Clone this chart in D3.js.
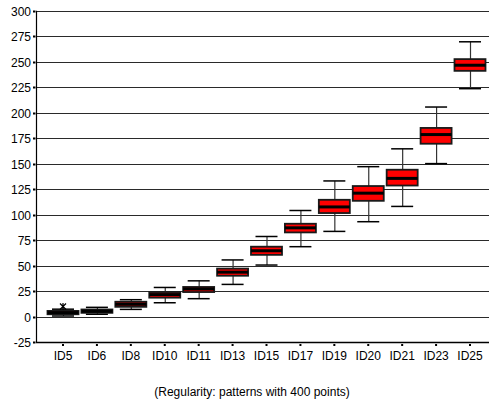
<!DOCTYPE html>
<html>
<head>
<meta charset="utf-8">
<script src="https://cdn.jsdelivr.net/npm/d3@7"></script>
<style>
  html, body { margin: 0; padding: 0; background: #fff; }
  svg { display: block; }
  text { font-family: "Liberation Sans", Arial, sans-serif; fill: #000; }
</style>
</head>
<body>
<svg id="chart" width="489" height="407"></svg>
<script>
// Box-plot statistics per pattern ID
const categories  = ["ID5","ID6","ID8","ID10","ID11","ID13","ID15","ID17","ID19","ID20","ID21","ID23","ID25"];
const whiskerLow  = [0.5, 2.2, 7, 13.5, 17.5, 31.5, 50.5, 68.5, 83.5, 93, 108, 150, 223.5];
const q1          = [2.2, 3.6, 9.5, 18.5, 24, 40, 60.5, 82.5, 101.5, 113.5, 128.5, 169.5, 241];
const medians     = [3.8, 5.2, 12, 21.5, 27, 43.5, 64.5, 87, 107.5, 121, 135.5, 178.5, 246.5];
const q3          = [5.5, 6.9, 14.5, 24, 29, 47, 68.5, 91, 114.5, 128, 144, 185, 252.5];
const whiskerHigh = [7.2, 9, 16.5, 28.5, 35, 55.5, 78.5, 104, 133, 147, 164.5, 205.5, 269.5];
const outlierCats = ["ID5"];
const outlierVals = [9.8];
const yTicks = [-25, 0, 25, 50, 75, 100, 125, 150, 175, 200, 225, 250, 275, 300];
const caption = "(Regularity: patterns with 400 points)";

const svg = d3.select("#chart");
const plotLeft = 36, plotRight = 489, plotTop = 10.7, plotBottom = 342;

const y = d3.scaleLinear().domain([-25, 300]).range([plotBottom, plotTop]);
const x = d3.scalePoint().domain(categories).range([63, 470]);

const boxW = 31, capW = 22;

// horizontal grid lines
svg.append("g")
  .selectAll("line")
  .data(yTicks.filter(d => d > -25))
  .join("line")
  .attr("x1", plotLeft).attr("x2", plotRight)
  .attr("y1", d => Math.round(y(d)) + 0.5).attr("y2", d => Math.round(y(d)) + 0.5)
  .attr("stroke", "#2a2a2a").attr("stroke-width", 1.1);

// y axis: labels and square tick marks
const yAxis = svg.append("g");
yAxis.selectAll("rect")
  .data(yTicks)
  .join("rect")
  .attr("x", 33).attr("y", d => Math.round(y(d)) - 0.5)
  .attr("width", 2.5).attr("height", 2)
  .attr("fill", "#000");
yAxis.selectAll("text")
  .data(yTicks)
  .join("text")
  .attr("x", 31).attr("y", d => y(d) + 5)
  .attr("text-anchor", "end")
  .style("font-size", "12px")
  .text(d => d);
yAxis.append("line")
  .attr("x1", plotLeft + 0.5).attr("x2", plotLeft + 0.5)
  .attr("y1", plotTop).attr("y2", plotBottom + 1)
  .attr("stroke", "#000").attr("stroke-width", 1.2);

// x axis
const xAxis = svg.append("g");
xAxis.append("line")
  .attr("x1", plotLeft).attr("x2", plotRight)
  .attr("y1", Math.round(plotBottom) + 0.5).attr("y2", Math.round(plotBottom) + 0.5)
  .attr("stroke", "#000").attr("stroke-width", 1.5);
xAxis.selectAll("rect")
  .data(categories)
  .join("rect")
  .attr("x", d => x(d) - 1).attr("y", 344)
  .attr("width", 2).attr("height", 2)
  .attr("fill", "#000");
xAxis.selectAll("text")
  .data(categories)
  .join("text")
  .attr("x", d => x(d)).attr("y", 359.5)
  .attr("text-anchor", "middle")
  .style("font-size", "12px")
  .text(d => d);

// boxes
const stats = categories.map((c, i) => ({
  c, lo: whiskerLow[i], q1: q1[i], med: medians[i], q3: q3[i], hi: whiskerHigh[i]
}));

const g = svg.append("g").selectAll("g").data(stats).join("g");

// whisker stem
g.append("line")
  .attr("x1", d => x(d.c) + 0.5).attr("x2", d => x(d.c) + 0.5)
  .attr("y1", d => y(d.hi)).attr("y2", d => y(d.lo))
  .attr("stroke", "#333").attr("stroke-width", 1.2);
// whisker caps
g.append("line")
  .attr("x1", d => x(d.c) - capW / 2).attr("x2", d => x(d.c) + capW / 2)
  .attr("y1", d => y(d.hi)).attr("y2", d => y(d.hi))
  .attr("stroke", "#000").attr("stroke-width", 1.5);
g.append("line")
  .attr("x1", d => x(d.c) - capW / 2).attr("x2", d => x(d.c) + capW / 2)
  .attr("y1", d => y(d.lo)).attr("y2", d => y(d.lo))
  .attr("stroke", "#000").attr("stroke-width", 1.5);
// box body
g.append("rect")
  .attr("x", d => x(d.c) - boxW / 2)
  .attr("y", d => y(d.q3))
  .attr("width", boxW)
  .attr("height", d => y(d.q1) - y(d.q3))
  .attr("fill", "#ff0000")
  .attr("stroke", "#1a1a1a").attr("stroke-width", 1.8);
// median
g.append("line")
  .attr("x1", d => x(d.c) - boxW / 2).attr("x2", d => x(d.c) + boxW / 2)
  .attr("y1", d => y(d.med)).attr("y2", d => y(d.med))
  .attr("stroke", "#000").attr("stroke-width", 3);

// outliers drawn as asterisks
const star = svg.append("g").selectAll("g")
  .data(outlierCats.map((c, i) => ({ c, v: outlierVals[i] })))
  .join("g")
  .attr("transform", d => `translate(${x(d.c)},${y(d.v)})`);
star.append("path")
  .attr("d", "M-3,-3L3,3M-3,3L3,-3M0,-3.5L0,3.5")
  .attr("stroke", "#000").attr("stroke-width", 1.2).attr("fill", "none");

// caption
svg.append("text")
  .attr("x", 252).attr("y", 396)
  .attr("text-anchor", "middle")
  .style("font-size", "12px")
  .text(caption);
</script>
</body>
</html>
